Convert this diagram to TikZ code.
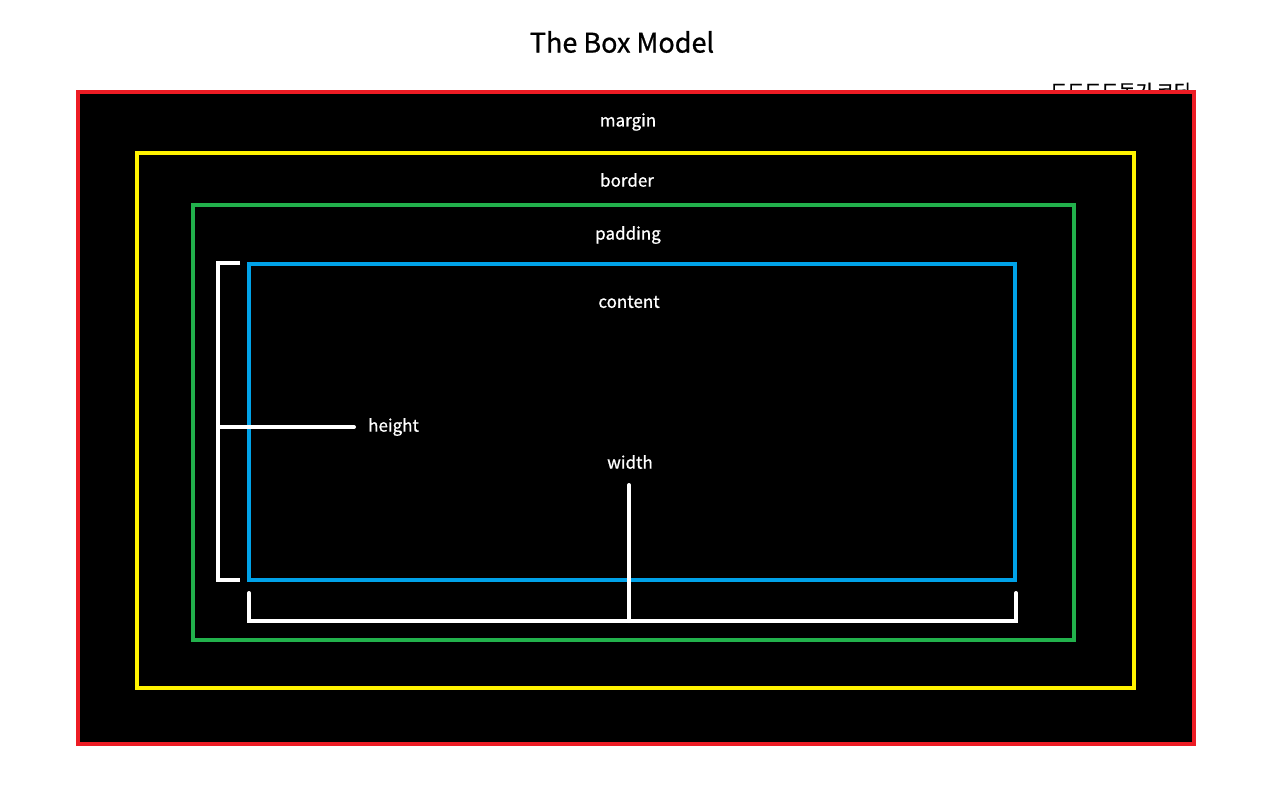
\documentclass[tikz,border=0pt]{standalone}
\usepackage{fontspec}
\setmainfont{Noto Sans CJK KR}[FakeBold=0.8]
\definecolor{pred}{HTML}{ED1C24}
\definecolor{pyellow}{HTML}{FFF200}
\definecolor{pgreen}{HTML}{22B14C}
\definecolor{pblue}{HTML}{00A2E8}
\begin{document}
\begin{tikzpicture}[x=1pt,y=-1pt,
  boxline/.style={line width=4pt},
  bracket/.style={draw=white,line width=4pt,line cap=round},
  lbl/.style={text=white,font=\fontsize{17}{20}\selectfont,inner sep=0pt}]
\useasboundingbox (0,0) rectangle (1286,796);
\fill[white] (0,0) rectangle (1286,796);
\node[inner sep=0pt,font=\fontsize{27}{32}\selectfont] (title) at (622,42) {The Box Model};
\node[inner sep=0pt,anchor=east,font=\fontsize{18.5}{20}\selectfont] (author) at (1191,91) {도도도도동기 코딩};
\draw[boxline,draw=pred,fill=black] (78,92) rectangle (1194,744);
\draw[boxline,draw=pyellow] (137,153) rectangle (1134,688);
\draw[boxline,draw=pgreen] (193,205) rectangle (1074,640);
\draw[boxline,draw=pblue] (249,264) rectangle (1015,580);
\node[lbl] (margin) at (628,122) {margin};
\node[lbl] (border) at (627,180) {border};
\node[lbl] (padding) at (628,235) {padding};
\node[lbl] (content) at (629,302) {content};
\node[lbl,anchor=west] (height) at (368,427) {height};
\node[lbl] (width) at (630,462) {width};
\coordinate (ht) at (240,263);
\coordinate (hb) at (240,580);
\coordinate (hm) at (218,427);
\coordinate (he) at (354,427);
\draw[bracket,line cap=butt] (ht) -- (218,263) -- (218,580) -- (hb);
\draw[bracket] (hm) -- (he);
\coordinate (wl) at (249,593);
\coordinate (wr) at (1016,593);
\coordinate (wm) at (629,621);
\coordinate (wt) at (629,485);
\draw[bracket,line join=miter] (wl) -- (249,621) -- (1016,621) -- (wr);
\draw[bracket] (wt) -- (wm);
\end{tikzpicture}
\end{document}
